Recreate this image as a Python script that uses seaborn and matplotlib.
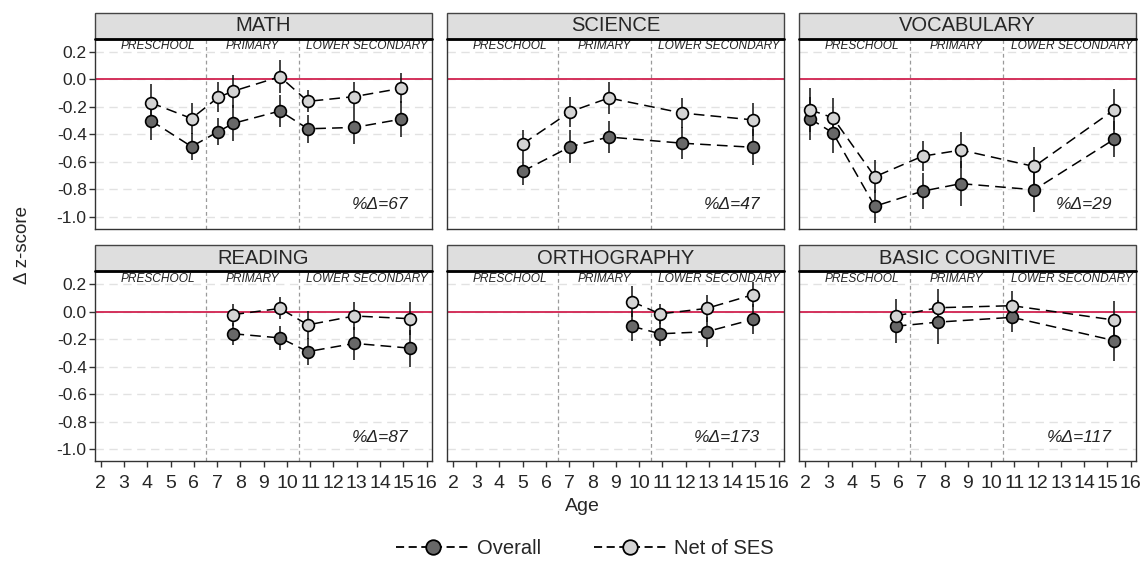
import numpy as np
import pandas as pd
import seaborn as sns
import matplotlib.pyplot as plt
from matplotlib.patches import Rectangle
from matplotlib.lines import Line2D

# data
tests      = ['MATH', 'SCIENCE', 'VOCABULARY', 'READING', 'ORTHOGRAPHY', 'BASIC COGNITIVE']
pct_change = [67, 47, 29, 87, 173, 117]
stages     = ['PRESCHOOL', 'PRIMARY', 'LOWER SECONDARY']
stage_mid  = [4.45, 8.5, 13.45]
stage_cuts = [6.5, 10.5]
age_ticks  = list(range(2, 17))
y_ticks    = [0.2, 0.0, -0.2, -0.4, -0.6, -0.8, -1.0]

math_age        = [4.15, 5.9, 7.05, 7.7, 9.7, 10.9, 12.9, 14.9]
math_overall    = [-0.30, -0.49, -0.38, -0.32, -0.23, -0.36, -0.35, -0.29]
math_overall_ci = [0.14, 0.10, 0.10, 0.13, 0.12, 0.10, 0.12, 0.13]
math_net        = [-0.17, -0.285, -0.13, -0.085, 0.02, -0.16, -0.125, -0.065]
math_net_ci     = [0.14, 0.115, 0.11, 0.12, 0.12, 0.08, 0.105, 0.11]

sci_age         = [5.0, 7.05, 8.7, 11.85, 14.9]
sci_overall     = [-0.67, -0.49, -0.42, -0.465, -0.495]
sci_overall_ci  = [0.10, 0.12, 0.12, 0.115, 0.13]
sci_net         = [-0.47, -0.235, -0.135, -0.245, -0.295]
sci_net_ci      = [0.10, 0.11, 0.12, 0.11, 0.12]

voc_age         = [2.2, 3.2, 5.0, 7.05, 8.7, 11.85, 15.3]
voc_overall     = [-0.285, -0.39, -0.925, -0.815, -0.76, -0.805, -0.435]
voc_overall_ci  = [0.16, 0.15, 0.12, 0.13, 0.165, 0.16, 0.13]
voc_net         = [-0.22, -0.28, -0.71, -0.56, -0.515, -0.635, -0.22]
voc_net_ci      = [0.16, 0.145, 0.12, 0.11, 0.13, 0.14, 0.15]

read_age        = [7.7, 9.7, 10.9, 12.9, 15.3]
read_overall    = [-0.16, -0.19, -0.29, -0.23, -0.265]
read_overall_ci = [0.08, 0.085, 0.10, 0.12, 0.135]
read_net        = [-0.02, 0.025, -0.095, -0.03, -0.05]
read_net_ci     = [0.08, 0.08, 0.10, 0.105, 0.12]

orth_age        = [9.7, 10.9, 12.9, 14.9]
orth_overall    = [-0.105, -0.16, -0.145, -0.055]
orth_overall_ci = [0.11, 0.09, 0.11, 0.11]
orth_net        = [0.075, -0.015, 0.025, 0.125]
orth_net_ci     = [0.11, 0.07, 0.10, 0.09]

cog_age         = [5.9, 7.7, 10.9, 15.3]
cog_overall     = [-0.105, -0.075, -0.04, -0.21]
cog_overall_ci  = [0.12, 0.16, 0.105, 0.145]
cog_net         = [-0.03, 0.03, 0.045, -0.06]
cog_net_ci      = [0.125, 0.135, 0.105, 0.14]

panels = {
    'MATH':            (math_age, math_overall, math_overall_ci, math_net, math_net_ci),
    'SCIENCE':         (sci_age, sci_overall, sci_overall_ci, sci_net, sci_net_ci),
    'VOCABULARY':      (voc_age, voc_overall, voc_overall_ci, voc_net, voc_net_ci),
    'READING':         (read_age, read_overall, read_overall_ci, read_net, read_net_ci),
    'ORTHOGRAPHY':     (orth_age, orth_overall, orth_overall_ci, orth_net, orth_net_ci),
    'BASIC COGNITIVE': (cog_age, cog_overall, cog_overall_ci, cog_net, cog_net_ci),
}

rows = []
for test, (age, ov, ov_ci, net, net_ci) in panels.items():
    for a, e, c in zip(age, ov, ov_ci):
        rows.append((test, 'Overall', a, e, c))
    for a, e, c in zip(age, net, net_ci):
        rows.append((test, 'Net of SES', a, e, c))
df = pd.DataFrame(rows, columns=['test', 'series', 'age', 'est', 'ci'])

sns.set_style('ticks')
plt.rcParams['font.family'] = ['Liberation Sans', 'DejaVu Sans']
plt.rcParams['axes.unicode_minus'] = False

face = {'Overall': '#686868', 'Net of SES': '#d4d4d4'}
dash = (0, (7, 4))

fig, axes = plt.subplots(2, 3, figsize=(11.45, 5.63), dpi=100, sharex=True, sharey=True)
fig.subplots_adjust(left=0.083, right=0.992, top=0.9307, bottom=0.1812, wspace=0.046, hspace=0.226)

for i, (ax, test) in enumerate(zip(axes.flat, tests)):
    ax.set_xlim(1.75, 16.22)
    ax.set_ylim(-1.088, 0.295)
    for yv in y_ticks:
        ax.axhline(yv, color='#e2e2e2', lw=1.0, ls=(0, (6, 4)), zorder=0)
    for xv in stage_cuts:
        ax.axvline(xv, color='#9a9a9a', lw=0.9, ls=(0, (3, 2.5)), zorder=1)
    ax.axhline(0, color='#d1224f', lw=1.3, zorder=1)

    sub_t = df[df['test'] == test]
    for s in ['Overall', 'Net of SES']:
        sub = sub_t[sub_t['series'] == s]
        ax.vlines(sub['age'], sub['est'] - sub['ci'], sub['est'] + sub['ci'],
                  color='#111111', lw=1.1, zorder=2)
        sns.lineplot(data=sub, x='age', y='est', ax=ax, color='black', lw=1.1,
                     linestyle=dash, errorbar=None, zorder=3)
    for s in ['Overall', 'Net of SES']:
        sub = sub_t[sub_t['series'] == s]
        sns.scatterplot(data=sub, x='age', y='est', ax=ax, color=face[s], edgecolor='black',
                        linewidth=1.2, s=72, zorder=4, legend=False)

    for name, xm in zip(stages, stage_mid):
        ax.text(xm, 0.243, name, ha='center', va='center', style='italic', fontsize=8.6, color='#222222')
    ax.text(15.2, -0.915, '%\u0394=' + str(pct_change[i]), ha='right', va='center',
            style='italic', fontsize=12.5, color='#222222')

    # strip header
    ax.add_patch(Rectangle((0, 1.0), 1, 0.138, transform=ax.transAxes, clip_on=False,
                           facecolor='#dedede', edgecolor='#444444', lw=1.0, zorder=5))
    ax.plot([0, 1], [1.0, 1.0], transform=ax.transAxes, color='black', lw=2.0,
            clip_on=False, zorder=6)
    ax.text(0.5, 1.069, test, transform=ax.transAxes, ha='center', va='center',
            fontsize=14.5, zorder=7)

    for sp in ax.spines.values():
        sp.set_visible(True)
        sp.set_color('#333333')
        sp.set_linewidth(1.0)
    ax.set_xlabel('')
    ax.set_ylabel('')
    ax.set_xticks(age_ticks)
    ax.set_yticks(y_ticks)
    ax.set_yticklabels(['%.1f' % v for v in y_ticks])
    ax.tick_params(direction='out', length=4, width=1, color='#333333', pad=2)
    ax.tick_params(axis='y', labelsize=12.5)
    ax.tick_params(axis='x', labelsize=14, pad=6)
    if i < 3:
        ax.tick_params(axis='x', bottom=False)
    if i % 3 != 0:
        ax.tick_params(axis='y', left=False)

fig.text(0.509, 0.1, 'Age', ha='center', va='center', fontsize=14)
fig.text(0.02, 0.565, '\u0394 z-score', ha='center', va='center', rotation=90, fontsize=13.5)

handles = [Line2D([], [], color='black', lw=1.3, ls=(0, (4.5, 2.5)), marker='o', markersize=10.5,
                  markerfacecolor=face[s], markeredgecolor='black', markeredgewidth=1.3)
           for s in ['Overall', 'Net of SES']]
fig.legend(handles, ['Overall', 'Net of SES'], loc='center', bbox_to_anchor=(0.511, 0.026),
           ncol=2, frameon=False, fontsize=14.5, handlelength=3.6, columnspacing=2.6, handletextpad=0.4)

fig.savefig('out.png', dpi=100)
